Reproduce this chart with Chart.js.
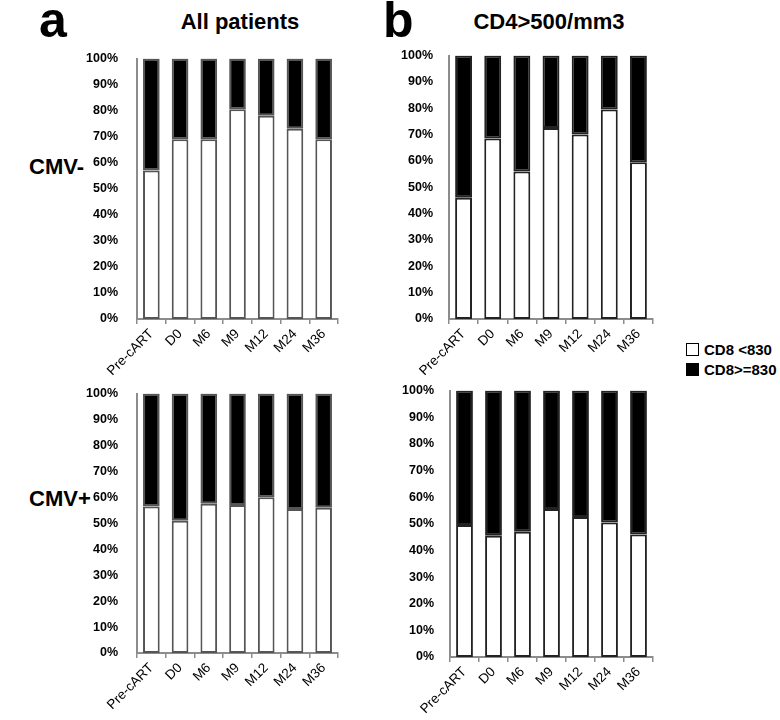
<!DOCTYPE html>
<html>
<head>
<meta charset="utf-8">
<script src="https://cdn.jsdelivr.net/npm/chart.js@4"></script>
<style>
  html, body { margin: 0; padding: 0; background: #ffffff; }
  body { width: 780px; height: 720px; position: relative; overflow: hidden;
         font-family: "Liberation Sans", Arial, sans-serif; color: #000; }
  .txt { position: absolute; font-weight: bold; white-space: nowrap; line-height: 1; }
  .cv { position: absolute; }
  .lg { position: absolute; display: flex; align-items: center; font-weight: bold; font-size: 15px; }
  .sw { width: 11px; height: 11px; border: 1.5px solid #000; margin-right: 5px; }
</style>
</head>
<body>
<div class="txt" style="left:39px; top:-5px; font-size:50px;">a</div>
<div class="txt" style="left:383px; top:-5px; font-size:50px;">b</div>
<div class="txt" style="left:180px; top:11px; font-size:22px; width:120px; text-align:center;">All patients</div>
<div class="txt" style="left:470px; top:11px; font-size:22px; width:158px; text-align:center;">CD4&gt;500/mm3</div>
<div class="txt" style="left:29px; top:156px; font-size:22px;">CMV-</div>
<div class="txt" style="left:29px; top:488px; font-size:22px;">CMV+</div>
<div class="lg" style="left:686px; top:341px;"><div class="sw" style="background:#fff;"></div>CD8 &lt;830</div>
<div class="lg" style="left:686px; top:361px;"><div class="sw" style="background:#000;"></div>CD8&gt;=830</div>

<canvas id="c1" class="cv"></canvas>
<canvas id="c2" class="cv"></canvas>
<canvas id="c3" class="cv"></canvas>
<canvas id="c4" class="cv"></canvas>

<script>
// ---- data ----
const categories = ["Pre-cART", "D0", "M6", "M9", "M12", "M24", "M36"];
const yTicks = [0, 10, 20, 30, 40, 50, 60, 70, 80, 90, 100];
const seriesNames = ["CD8 <830", "CD8>=830"];

// CMV-, all patients
const cmvNegAll_low  = [57, 69, 69, 80.5, 78, 73, 69];
const cmvNegAll_high = [43, 31, 31, 19.5, 22, 27, 31];
// CMV-, CD4>500/mm3
const cmvNegCd4_low  = [46, 68.5, 56, 72.5, 70, 79.5, 59.5];
const cmvNegCd4_high = [54, 31.5, 44, 27.5, 30, 20.5, 40.5];
// CMV+, all patients
const cmvPosAll_low  = [56.5, 51, 57.5, 57, 60, 55.5, 56];
const cmvPosAll_high = [43.5, 49, 42.5, 43, 40, 44.5, 44];
// CMV+, CD4>500/mm3
const cmvPosCd4_low  = [49.5, 45.5, 47, 55.5, 52.5, 50.5, 46];
const cmvPosCd4_high = [50.5, 54.5, 53, 44.5, 47.5, 49.5, 54];

// ---- drawing ----
const FONT = '"Liberation Sans", Arial, sans-serif';

function makePanel(id, low, high, box) {
  const cv = document.getElementById(id);
  cv.style.left = box.left + 'px';
  cv.style.top = box.top + 'px';
  cv.width = box.width; cv.height = box.height;
  cv.style.width = box.width + 'px'; cv.style.height = box.height + 'px';
  const yAxisW = box.plotLeft - box.left;
  const xAxisH = (box.top + box.height) - box.plotBottom;
  new Chart(cv, {
    type: 'bar',
    data: {
      labels: categories,
      datasets: [
        { label: seriesNames[0], data: low, backgroundColor: '#ffffff',
          borderColor: box.barEdge, borderWidth: 2, borderSkipped: false },
        { label: seriesNames[1], data: high, backgroundColor: '#000000',
          borderColor: box.barEdge, borderWidth: 2, borderSkipped: false }
      ]
    },
    options: {
      responsive: false,
      animation: false,
      devicePixelRatio: 1,
      layout: { padding: { top: box.plotTop - box.top, right: (box.left + box.width) - box.plotRight, left: 0, bottom: 0 } },
      datasets: { bar: { categoryPercentage: 1.0, barPercentage: 0.58 } },
      plugins: { legend: { display: false }, tooltip: { enabled: false }, title: { display: false } },
      scales: {
        x: {
          stacked: true,
          offset: true,
          grid: { display: true, drawOnChartArea: false, drawTicks: true, tickLength: 5, color: '#8c8c8c', lineWidth: 1.5, offset: true },
          border: { display: true, color: '#8c8c8c', width: 2 },
          ticks: { color: '#000', autoSkip: false, minRotation: 45, maxRotation: 45, padding: 2,
                   font: { family: FONT, size: 13.5 } },
          afterFit: (s) => { s.height = xAxisH; }
        },
        y: {
          stacked: true,
          min: 0, max: 100,
          afterBuildTicks: (s) => { s.ticks = yTicks.map(v => ({ value: v })); },
          grid: { display: false },
          border: { display: true, color: '#8c8c8c', width: 2 },
          ticks: { color: '#000', padding: box.tickPad, callback: (v) => v + '%',
                   font: { family: FONT, size: 12.5, weight: 'bold' } },
          afterFit: (s) => { s.width = yAxisW; }
        }
      }
    }
  });
}

makePanel('c1', cmvNegAll_low, cmvNegAll_high,
  { left: 60, top: 40, width: 285, height: 335, plotLeft: 137, plotRight: 338, plotTop: 55, plotBottom: 319, tickPad: 11, barEdge: '#555555' });
makePanel('c2', cmvNegCd4_low, cmvNegCd4_high,
  { left: 398, top: 40, width: 262, height: 335, plotLeft: 449, plotRight: 653, plotTop: 55, plotBottom: 319, tickPad: 8, barEdge: '#222222' });
makePanel('c3', cmvPosAll_low, cmvPosAll_high,
  { left: 60, top: 375, width: 285, height: 345, plotLeft: 137, plotRight: 338, plotTop: 387, plotBottom: 653, tickPad: 11, barEdge: '#555555' });
makePanel('c4', cmvPosCd4_low, cmvPosCd4_high,
  { left: 398, top: 375, width: 262, height: 345, plotLeft: 450, plotRight: 653, plotTop: 387, plotBottom: 657, tickPad: 8, barEdge: '#222222' });
</script>
</body>
</html>
